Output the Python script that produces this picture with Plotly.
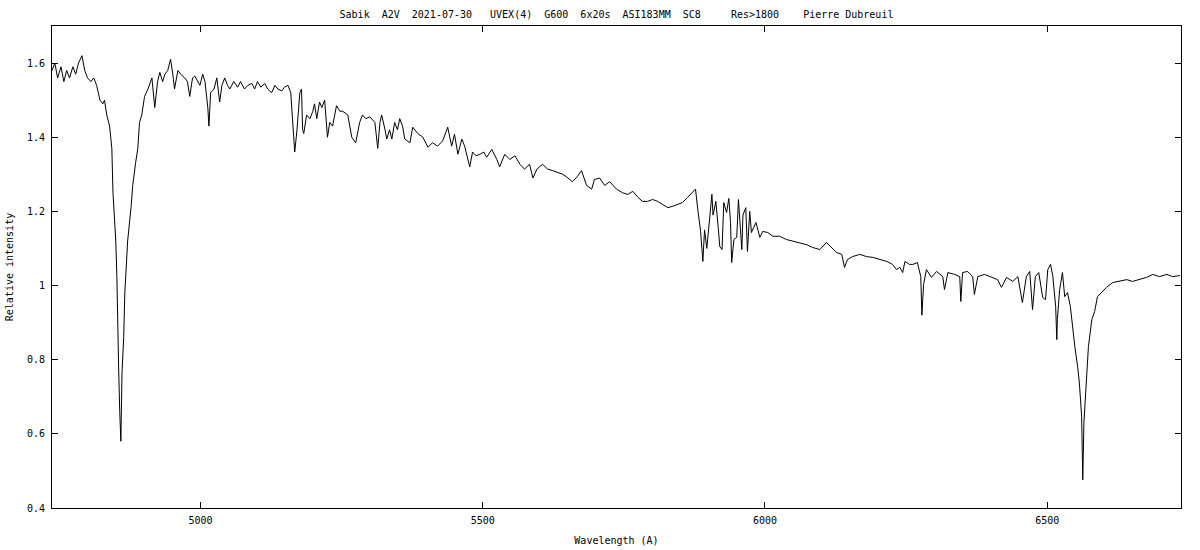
import plotly.graph_objects as go

TITLE = ("Sabik  A2V  2021-07-30   UVEX(4)  G600  6x20s  ASI183MM  SC8     "
         "Res>1800    Pierre Dubreuil").replace(" ", "\u00a0")
X_LABEL = "Wavelength (A)"
Y_LABEL = "Relative intensity"

wavelength = [
    4737, 4742, 4747, 4753, 4758, 4763, 4768, 4774, 4779, 4784, 4790, 4795, 4800, 4806, 4811,
    4816, 4822, 4827, 4830, 4834, 4839, 4843, 4845, 4850, 4852, 4853, 4855, 4857, 4859, 4861,
    4864, 4866, 4869, 4871, 4877, 4880, 4885, 4889, 4892, 4896, 4901, 4907, 4914, 4919, 4924,
    4928, 4933, 4937, 4942, 4947, 4951, 4954, 4960, 4965, 4972, 4977, 4981, 4986, 4990, 4995,
    4999, 5004, 5008, 5013, 5015, 5018, 5024, 5029, 5034, 5038, 5043, 5048, 5052, 5059, 5066,
    5071, 5078, 5084, 5091, 5096, 5101, 5107, 5114, 5119, 5126, 5132, 5137, 5144, 5149, 5155,
    5160, 5163, 5167, 5171, 5176, 5179, 5181, 5183, 5188, 5194, 5199, 5202, 5206, 5211, 5215,
    5220, 5225, 5229, 5234, 5241, 5247, 5252, 5261, 5268, 5275, 5282, 5287, 5293, 5300, 5309,
    5314, 5318, 5321, 5327, 5330, 5335, 5339, 5344, 5349, 5353, 5358, 5362, 5371, 5376, 5385,
    5394, 5403, 5411, 5420, 5429, 5438, 5445, 5450, 5456, 5463, 5468, 5477, 5482, 5488, 5495,
    5502, 5507, 5516, 5525, 5530, 5539, 5548, 5557, 5566, 5574, 5583, 5589, 5596, 5606, 5615,
    5624, 5633, 5642, 5651, 5659, 5668, 5675, 5684, 5693, 5698, 5707, 5716, 5725, 5737, 5748,
    5757, 5766, 5775, 5783, 5792, 5801, 5810, 5819, 5828, 5837, 5845, 5854, 5863, 5872, 5877,
    5881, 5886, 5890, 5893, 5897, 5902, 5906, 5908, 5913, 5917, 5920, 5924, 5927, 5932, 5936,
    5939, 5941, 5945, 5950, 5953, 5959, 5961, 5966, 5969, 5973, 5976, 5984, 5991, 5996, 6005,
    6014, 6026, 6038, 6049, 6061, 6074, 6084, 6097, 6109, 6118, 6127, 6136, 6141, 6146, 6155,
    6168, 6180, 6191, 6203, 6216, 6226, 6233, 6239, 6244, 6248, 6256, 6262, 6270, 6276, 6278,
    6281, 6286, 6295, 6304, 6315, 6318, 6324, 6336, 6345, 6347, 6350, 6359, 6368, 6371, 6377,
    6389, 6402, 6412, 6419, 6428, 6439, 6448, 6456, 6463, 6469, 6474, 6479, 6485, 6492, 6497,
    6501, 6506, 6510, 6515, 6517, 6518, 6522, 6527, 6531, 6536, 6541, 6545, 6549, 6554, 6557,
    6561, 6563, 6565, 6570, 6573, 6579, 6584, 6589, 6596, 6605, 6616, 6628, 6641, 6651, 6664,
    6676, 6687, 6699, 6712, 6722, 6735,
]

intensity = [
    1.58, 1.60, 1.56, 1.59, 1.55, 1.58, 1.56, 1.59, 1.57, 1.60, 1.62, 1.58, 1.56, 1.55, 1.56,
    1.54, 1.50, 1.49, 1.50, 1.46, 1.43, 1.37, 1.25, 1.12, 1.02, 0.89, 0.78, 0.66, 0.58, 0.765,
    0.86, 0.98, 1.05, 1.12, 1.21, 1.27, 1.33, 1.37, 1.44, 1.46, 1.51, 1.53, 1.56, 1.48, 1.55,
    1.575, 1.55, 1.57, 1.58, 1.61, 1.57, 1.53, 1.58, 1.57, 1.56, 1.55, 1.51, 1.56, 1.565, 1.55,
    1.54, 1.57, 1.55, 1.48, 1.43, 1.52, 1.53, 1.56, 1.495, 1.54, 1.56, 1.54, 1.53, 1.55, 1.535,
    1.55, 1.53, 1.54, 1.545, 1.53, 1.55, 1.535, 1.545, 1.53, 1.52, 1.54, 1.53, 1.525, 1.535, 1.54,
    1.52, 1.45, 1.36, 1.42, 1.52, 1.53, 1.42, 1.41, 1.46, 1.45, 1.47, 1.49, 1.45, 1.495, 1.48,
    1.50, 1.40, 1.44, 1.43, 1.485, 1.47, 1.47, 1.46, 1.40, 1.385, 1.44, 1.46, 1.45, 1.455, 1.44,
    1.37, 1.44, 1.46, 1.42, 1.395, 1.42, 1.395, 1.44, 1.42, 1.45, 1.43, 1.395, 1.385, 1.427, 1.41,
    1.40, 1.373, 1.385, 1.376, 1.39, 1.427, 1.376, 1.408, 1.354, 1.395, 1.376, 1.32, 1.36, 1.35, 1.354,
    1.36, 1.346, 1.367, 1.34, 1.32, 1.354, 1.34, 1.35, 1.327, 1.314, 1.327, 1.29, 1.314, 1.327, 1.314,
    1.31, 1.305, 1.30, 1.29, 1.28, 1.295, 1.31, 1.27, 1.26, 1.286, 1.29, 1.27, 1.28, 1.26, 1.25,
    1.246, 1.254, 1.238, 1.227, 1.227, 1.232, 1.227, 1.219, 1.21, 1.214, 1.219, 1.224, 1.238, 1.254, 1.26,
    1.205, 1.146, 1.065, 1.15, 1.10, 1.19, 1.246, 1.19, 1.227, 1.16, 1.105, 1.097, 1.224, 1.197, 1.235,
    1.17, 1.062, 1.124, 1.13, 1.232, 1.097, 1.19, 1.21, 1.092, 1.20, 1.143, 1.17, 1.13, 1.146, 1.143,
    1.133, 1.133, 1.124, 1.12, 1.116, 1.11, 1.103, 1.097, 1.116, 1.103, 1.089, 1.084, 1.049, 1.07, 1.078,
    1.084, 1.078, 1.076, 1.07, 1.065, 1.057, 1.043, 1.049, 1.035, 1.065, 1.057, 1.057, 1.062, 1.024, 0.92,
    1.003, 1.043, 1.022, 1.038, 1.024, 0.989, 1.035, 1.03, 1.024, 0.957, 1.035, 1.038, 1.024, 0.976, 1.024,
    1.03, 1.022, 1.016, 0.995, 1.022, 1.011, 1.024, 0.954, 1.024, 1.038, 0.935, 1.024, 1.035, 0.968, 0.962,
    1.043, 1.057, 1.024, 0.943, 0.854, 0.908, 0.989, 1.035, 0.97, 0.981, 0.943, 0.881, 0.835, 0.78, 0.737,
    0.646, 0.476, 0.63, 0.765, 0.835, 0.908, 0.93, 0.97, 0.981, 0.995, 1.008, 1.011, 1.016, 1.011, 1.016,
    1.022, 1.03, 1.024, 1.03, 1.024, 1.027,
]

X_RANGE = [4737, 6737]
Y_RANGE = [0.4, 1.7]

FONT = "DejaVu Sans Mono"

fig = go.Figure()
fig.add_trace(go.Scatter(
    x=wavelength, y=intensity, mode="lines",
    line=dict(color="black", width=1),
    hoverinfo="x+y", showlegend=False,
))

axis_common = dict(
    showgrid=False, zeroline=False, automargin=False,
    showline=True, linecolor="black", linewidth=1, mirror="ticks",
    ticks="inside", ticklen=6, tickwidth=1, tickcolor="black",
    tickfont=dict(family=FONT, size=10, color="black"),
)

fig.update_layout(
    width=1200, height=550,
    margin=dict(l=52, r=19, t=26, b=42, pad=0),
    paper_bgcolor="white", plot_bgcolor="white",
    font=dict(family=FONT, size=10, color="black"),
    title=dict(text=TITLE, x=0.5, xref="paper", xanchor="center",
               y=1 - 14 / 550, yref="container", yanchor="middle",
               font=dict(family=FONT, size=10, color="black")),
    xaxis=dict(range=X_RANGE, tick0=5000, dtick=500, ticklabelstandoff=3,
               title=dict(text=X_LABEL, standoff=11,
                          font=dict(family=FONT, size=10, color="black")),
               **axis_common),
    yaxis=dict(range=Y_RANGE, tick0=0.4, dtick=0.2, ticklabelstandoff=4,
               title=dict(text=Y_LABEL, standoff=11,
                          font=dict(family=FONT, size=10, color="black")),
               **axis_common),
)

fig.write_html("out.html", config={"displayModeBar": False},
               post_script="document.body.style.margin='0';")
